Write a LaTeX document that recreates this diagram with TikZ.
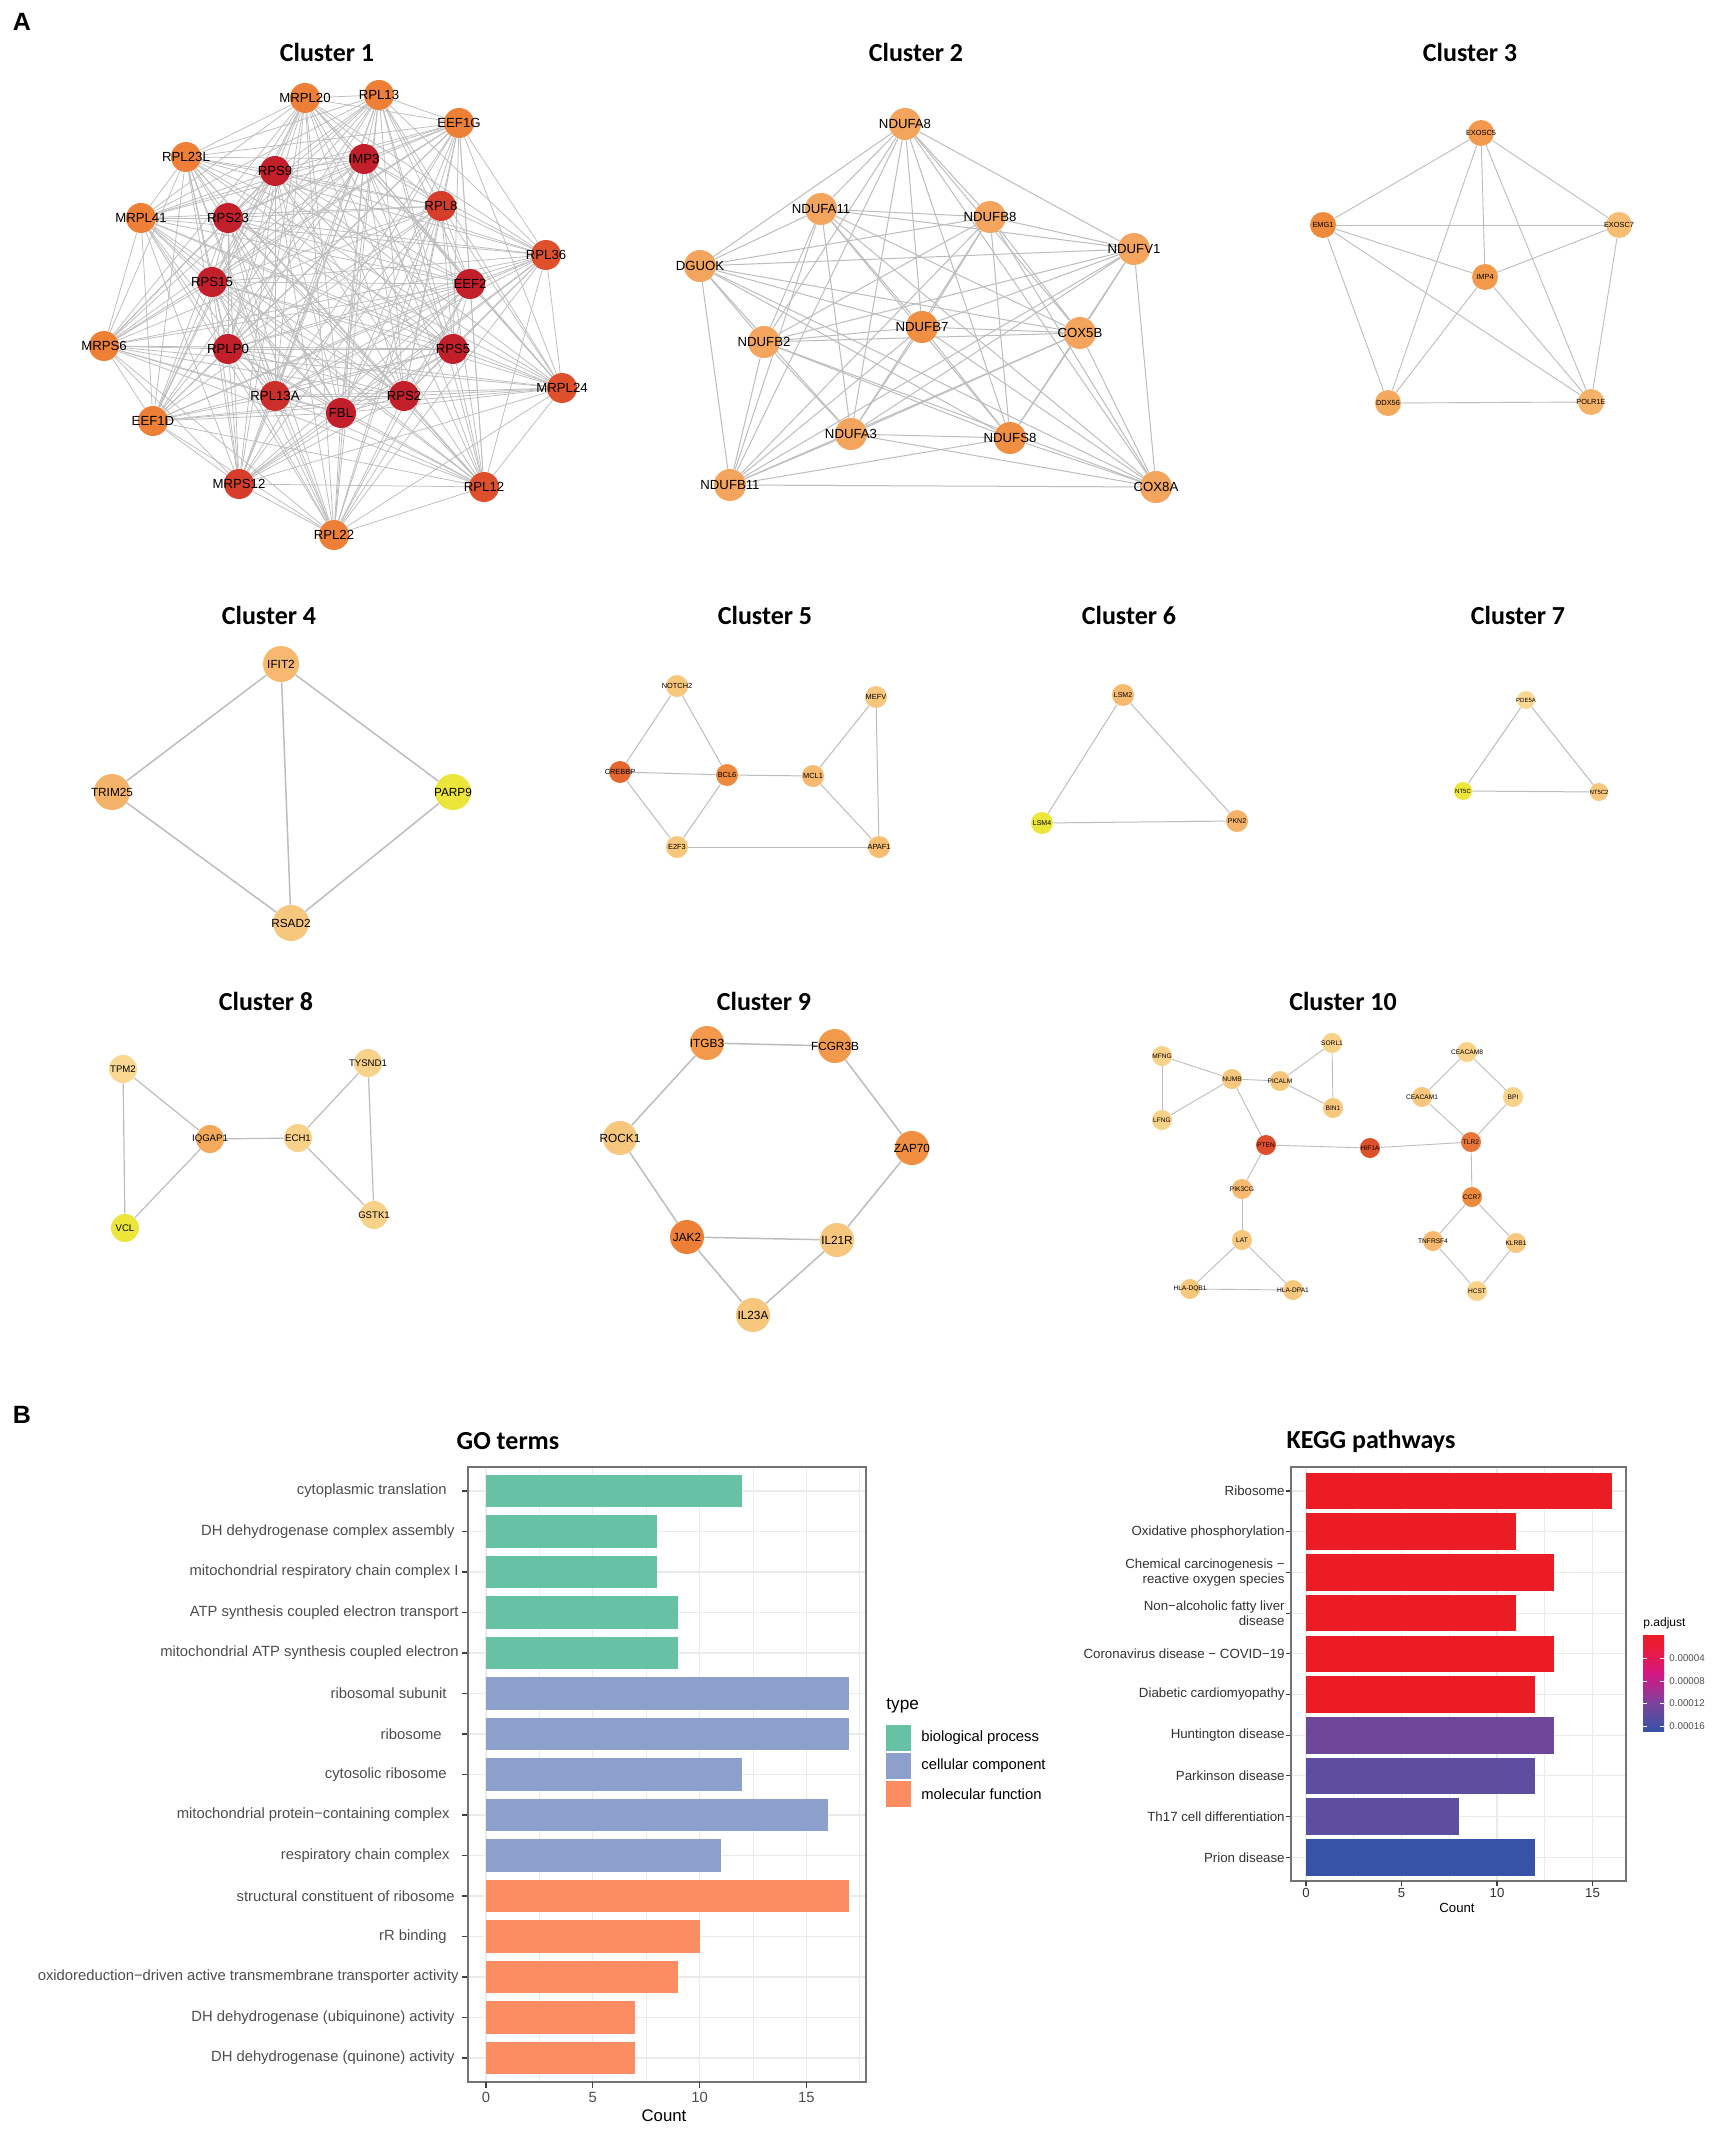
\documentclass[tikz,border=0pt]{standalone}
\usepackage{fontspec}
\setmainfont{Liberation Sans}
\newfontfamily\titlefont{Carlito}
\pgfdeclarelayer{back}
\pgfdeclarelayer{bg}
\pgfsetlayers{back,bg,main}
\definecolor{edgegray}{HTML}{BDBDBD}
\definecolor{cO}{HTML}{EE7F36}
\definecolor{cRO}{HTML}{DE4F2C}
\definecolor{cRR}{HTML}{D63E2B}
\definecolor{cDR}{HTML}{C21F2B}
\definecolor{cMR}{HTML}{CC2F2A}
\definecolor{cLA}{HTML}{F4A55D}
\definecolor{cLB}{HTML}{F08E42}
\definecolor{cY}{HTML}{ECE53A}
\definecolor{cPa}{HTML}{F8C77E}
\definecolor{cPb}{HTML}{F6B96F}
\definecolor{cPc}{HTML}{FAD891}
\definecolor{cPd}{HTML}{F2994C}
\definecolor{cPe}{HTML}{EE8A3E}
\definecolor{cPf}{HTML}{E3672F}
\definecolor{cPg}{HTML}{F4B368}
\definecolor{cPh}{HTML}{F7BD72}
\definecolor{cPi}{HTML}{F4AA5C}
\definecolor{cPj}{HTML}{F9D28A}
\definecolor{cT}{HTML}{E8763A}
\definecolor{bpc}{HTML}{66C2A5}
\definecolor{ccc}{HTML}{8DA0CB}
\definecolor{mfc}{HTML}{FC8D62}
\definecolor{kr}{HTML}{EC1C24}
\definecolor{kh}{HTML}{6E479B}
\definecolor{kp}{HTML}{5D4E9F}
\definecolor{kb}{HTML}{3753A5}
\definecolor{gridc}{HTML}{EBEBEB}
\definecolor{axtxt}{HTML}{4D4D4D}
\newcommand\genenode[5]{\node[gs,fill=#4,label={[gl]center:#5}] (#1) at (#2,#3) {};}
\begin{document}
\begin{tikzpicture}[x=0.5pt,y=-0.5pt,
  g/.style={circle,inner sep=0pt,draw=none,minimum size=#1},
  lf/.style={font=\fontsize{#1}{#1}\selectfont,inner sep=0pt,text=black},
  ed/.style={draw=edgegray,line width=#1},
  ttl/.style={font=\titlefont\bfseries\fontsize{13}{15}\selectfont},
  panel/.style={font=\bfseries\fontsize{12.5}{14}\selectfont},
  gridmaj/.style={draw=gridc,line width=0.55pt},
  gridmin/.style={draw=gridc,line width=0.28pt},
  axline/.style={draw=black!55,line width=0.55pt},
  tickl/.style={draw=black!75,line width=0.55pt},
  golbl/.style={font=\fontsize{7.4}{8.5}\selectfont,text=axtxt,inner sep=0pt,anchor=east},
  kglbl/.style={font=\fontsize{6.65}{7.6}\selectfont,text=black!80,inner sep=0pt,anchor=east,align=right}]
\useasboundingbox (0,0) rectangle (1717,2129);
\begin{pgfonlayer}{back}
\fill[white] (0,0) rectangle (1717,2129);
\end{pgfonlayer}

% panel labels and titles
\node[panel] (pA) at (22,22) {A};
\node[panel] (pB) at (22,1415) {B};
\node[ttl] (t1) at (327,52) {Cluster 1};
\node[ttl] (t2) at (916,52) {Cluster 2};
\node[ttl] (t3) at (1470,52) {Cluster 3};
\node[ttl] (t4) at (269,615) {Cluster 4};
\node[ttl] (t5) at (765,615) {Cluster 5};
\node[ttl] (t6) at (1129,615) {Cluster 6};
\node[ttl] (t7) at (1518,615) {Cluster 7};
\node[ttl] (t8) at (266,1001) {Cluster 8};
\node[ttl] (t9) at (764,1001) {Cluster 9};
\node[ttl] (t10) at (1343,1001) {Cluster 10};

% ---------------- Cluster 1
\begin{scope}[gs/.style={g=15pt},gl/.style={lf=6.6}]
\genenode{mrpl20}{305}{98}{cO}{MRPL20}
\genenode{rpl13}{379}{95}{cO}{RPL13}
\genenode{eef1g}{459}{123}{cO}{EEF1G}
\genenode{rpl23l}{186}{157}{cO}{RPL23L}
\genenode{rps9}{275}{171}{cDR}{RPS9}
\genenode{imp3}{364}{159}{cDR}{IMP3}
\genenode{rpl8}{441}{206}{cRR}{RPL8}
\genenode{mrpl41}{141}{218}{cO}{MRPL41}
\genenode{rps23}{228}{218}{cDR}{RPS23}
\genenode{rpl36}{546}{255}{cRO}{RPL36}
\genenode{rps15}{212}{282}{cDR}{RPS15}
\genenode{eef2}{470}{284}{cDR}{EEF2}
\genenode{mrps6}{104}{346}{cO}{MRPS6}
\genenode{rplp0}{228}{349}{cDR}{RPLP0}
\genenode{rps5}{453}{349}{cDR}{RPS5}
\genenode{mrpl24}{562}{388}{cRO}{MRPL24}
\genenode{rpl13a}{275}{396}{cMR}{RPL13A}
\genenode{rps2}{404}{396}{cDR}{RPS2}
\genenode{fbl}{341}{413}{cDR}{FBL}
\genenode{eef1d}{153}{421}{cO}{EEF1D}
\genenode{mrps12}{239}{484}{cRR}{MRPS12}
\genenode{rpl12}{484}{487}{cRO}{RPL12}
\genenode{rpl22}{334}{535}{cO}{RPL22}
\def\clA{mrpl20,rpl13,eef1g,rpl23l,rps9,imp3,rpl8,mrpl41,rps23,rpl36,rps15,eef2,mrps6,rplp0,rps5,mrpl24,rpl13a,rps2,fbl,eef1d,mrps12,rpl12,rpl22}
\begin{pgfonlayer}{bg}
\foreach \a [count=\i] in \clA {
  \foreach \b [count=\j] in \clA {
    \ifnum\j>\i \draw[ed=0.38pt] (\a) -- (\b);\fi }}
\end{pgfonlayer}
\end{scope}

% ---------------- Cluster 2
\begin{scope}[gs/.style={g=16pt},gl/.style={lf=6.6}]
\genenode{ndufa8}{905}{124}{cLA}{NDUFA8}
\genenode{ndufa11}{821}{209}{cLA}{NDUFA11}
\genenode{ndufb8}{990}{217}{cLA}{NDUFB8}
\genenode{ndufv1}{1134}{249}{cLA}{NDUFV1}
\genenode{dguok}{700}{266}{cLA}{DGUOK}
\genenode{ndufb2}{764}{342}{cLA}{NDUFB2}
\genenode{ndufb7}{922}{327}{cLB}{NDUFB7}
\genenode{cox5b}{1080}{333}{cLA}{COX5B}
\genenode{ndufa3}{851}{434}{cLA}{NDUFA3}
\genenode{ndufs8}{1010}{438}{cLB}{NDUFS8}
\genenode{ndufb11}{730}{485}{cLA}{NDUFB11}
\genenode{cox8a}{1156}{487}{cLA}{COX8A}
\def\clB{ndufa8,ndufa11,ndufb8,ndufv1,dguok,ndufb2,ndufb7,cox5b,ndufa3,ndufs8,ndufb11,cox8a}
\begin{pgfonlayer}{bg}
\foreach \a [count=\i] in \clB {
  \foreach \b [count=\j] in \clB {
    \ifnum\j>\i \draw[ed=0.5pt] (\a) -- (\b);\fi }}
\end{pgfonlayer}
\end{scope}

% ---------------- Cluster 3
\begin{scope}[gs/.style={g=13pt},gl/.style={lf=3.7}]
\genenode{exosc5}{1481}{133}{cPd}{EXOSC5}
\genenode{emg1}{1323}{225}{cPe}{EMG1}
\genenode{exosc7}{1619}{225}{cPh}{EXOSC7}
\genenode{imp4}{1485}{277}{cPd}{IMP4}
\genenode{ddx56}{1388}{403}{cPi}{DDX56}
\genenode{polr1e}{1591}{402}{cPg}{POLR1E}
\begin{pgfonlayer}{bg}
\foreach \a/\b in {exosc5/emg1,exosc5/exosc7,exosc5/imp4,exosc5/ddx56,exosc5/polr1e,emg1/exosc7,emg1/imp4,emg1/ddx56,emg1/polr1e,exosc7/imp4,exosc7/polr1e,imp4/ddx56,imp4/polr1e,ddx56/polr1e}
  \draw[ed=0.45pt] (\a) -- (\b);
\end{pgfonlayer}
\end{scope}

% ---------------- Cluster 4
\begin{scope}[gs/.style={g=18pt},gl/.style={lf=5.9}]
\genenode{ifit2}{281}{664}{cPb}{IFIT2}
\genenode{trim25}{112}{792}{cPg}{TRIM25}
\genenode{parp9}{453}{792}{cY}{PARP9}
\genenode{rsad2}{291}{923}{cPa}{RSAD2}
\begin{pgfonlayer}{bg}
\foreach \a/\b in {ifit2/trim25,ifit2/parp9,ifit2/rsad2,trim25/rsad2,parp9/rsad2}
  \draw[ed=0.75pt] (\a) -- (\b);
\end{pgfonlayer}
\end{scope}

% ---------------- Cluster 5
\begin{scope}[gs/.style={g=11pt},gl/.style={lf=3.7}]
\genenode{notch2}{677}{686}{cPa}{NOTCH2}
\genenode{mefv}{876}{697}{cPa}{MEFV}
\genenode{crebbp}{620}{772}{cPf}{CREBBP}
\genenode{bcl6}{727}{775}{cPe}{BCL6}
\genenode{mcl1}{813}{776}{cPb}{MCL1}
\genenode{e2f3}{677}{847}{cPa}{E2F3}
\genenode{apaf1}{879}{847}{cPh}{APAF1}
\begin{pgfonlayer}{bg}
\foreach \a/\b in {notch2/crebbp,notch2/bcl6,crebbp/bcl6,crebbp/e2f3,bcl6/e2f3,bcl6/mcl1,mcl1/mefv,mcl1/apaf1,mefv/apaf1,e2f3/apaf1}
  \draw[ed=0.5pt] (\a) -- (\b);
\end{pgfonlayer}
\end{scope}

% ---------------- Cluster 6
\begin{scope}[gs/.style={g=11pt},gl/.style={lf=3.5}]
\genenode{lsm2}{1123}{695}{cPb}{LSM2}
\genenode{lsm4}{1042}{823}{cY}{LSM4}
\genenode{pkn2}{1237}{821}{cPg}{PKN2}
\begin{pgfonlayer}{bg}
\foreach \a/\b in {lsm2/lsm4,lsm2/pkn2,lsm4/pkn2}
  \draw[ed=0.5pt] (\a) -- (\b);
\end{pgfonlayer}
\end{scope}

% ---------------- Cluster 7
\begin{scope}[gs/.style={g=9pt},gl/.style={lf=3.0}]
\genenode{pde5a}{1526}{700}{cPc}{PDE5A}
\genenode{nt5c}{1463}{791}{cY}{NT5C}
\genenode{nt5ctwo}{1599}{792}{cPa}{NT5C2}
\begin{pgfonlayer}{bg}
\foreach \a/\b in {pde5a/nt5c,pde5a/nt5ctwo,nt5c/nt5ctwo}
  \draw[ed=0.5pt] (\a) -- (\b);
\end{pgfonlayer}
\end{scope}

% ---------------- Cluster 8
\begin{scope}[gs/.style={g=14pt},gl/.style={lf=4.8}]
\genenode{tpm2}{123}{1069}{cPc}{TPM2}
\genenode{tysnd1}{368}{1063}{cPj}{TYSND1}
\genenode{iqgap1}{210}{1139}{cPi}{IQGAP1}
\genenode{ech1}{298}{1138}{cPj}{ECH1}
\genenode{vcl}{125}{1228}{cY}{VCL}
\genenode{gstk1}{374}{1215}{cPj}{GSTK1}
\begin{pgfonlayer}{bg}
\foreach \a/\b in {tpm2/iqgap1,tpm2/vcl,vcl/iqgap1,iqgap1/ech1,ech1/tysnd1,ech1/gstk1,tysnd1/gstk1}
  \draw[ed=0.6pt] (\a) -- (\b);
\end{pgfonlayer}
\end{scope}

% ---------------- Cluster 9
\begin{scope}[gs/.style={g=17pt},gl/.style={lf=5.9}]
\genenode{itgb3}{707}{1043}{cPd}{ITGB3}
\genenode{fcgr3b}{835}{1046}{cPd}{FCGR3B}
\genenode{rock1}{620}{1138}{cPa}{ROCK1}
\genenode{zap70}{912}{1148}{cLB}{ZAP70}
\genenode{jak2}{687}{1237}{cO}{JAK2}
\genenode{il21r}{837}{1240}{cPa}{IL21R}
\genenode{il23a}{753}{1315}{cPa}{IL23A}
\begin{pgfonlayer}{bg}
\foreach \a/\b in {itgb3/fcgr3b,itgb3/rock1,fcgr3b/zap70,rock1/jak2,zap70/il21r,jak2/il21r,jak2/il23a,il21r/il23a}
  \draw[ed=0.75pt] (\a) -- (\b);
\end{pgfonlayer}
\end{scope}

% ---------------- Cluster 10
\begin{scope}[gs/.style={g=10pt},gl/.style={lf=3.3}]
\genenode{mfng}{1162}{1056}{cPj}{MFNG}
\genenode{lfng}{1162}{1120}{cPj}{LFNG}
\genenode{numb}{1232}{1079}{cPa}{NUMB}
\genenode{picalm}{1280}{1081}{cPa}{PICALM}
\genenode{sorl1}{1332}{1043}{cPj}{SORL1}
\genenode{bin1}{1333}{1108}{cPa}{BIN1}
\genenode{pten}{1266}{1145}{cRO}{PTEN}
\genenode{hif1a}{1370}{1148}{cRO}{HIF1A}
\genenode{tlr2}{1471}{1142}{cT}{TLR2}
\genenode{ceacam8}{1467}{1052}{cPj}{CEACAM8}
\genenode{ceacam1}{1422}{1097}{cPa}{CEACAM1}
\genenode{bpi}{1513}{1097}{cPj}{BPI}
\genenode{ccr7}{1472}{1197}{cPe}{CCR7}
\genenode{pik3cg}{1242}{1189}{cPb}{PIK3CG}
\genenode{lat}{1242}{1240}{cPa}{LAT}
\genenode{hladqb1}{1190}{1289}{cPa}{HLA-DQB1}
\genenode{hladpa1}{1293}{1290}{cPa}{HLA-DPA1}
\genenode{tnfrsf4}{1433}{1241}{cPb}{TNFRSF4}
\genenode{klrb1}{1516}{1243}{cPa}{KLRB1}
\genenode{hcst}{1477}{1291}{cPj}{HCST}
\begin{pgfonlayer}{bg}
\foreach \a/\b in {mfng/numb,mfng/lfng,lfng/numb,numb/picalm,numb/pten,picalm/sorl1,picalm/bin1,sorl1/bin1,pten/hif1a,hif1a/tlr2,pten/pik3cg,pik3cg/lat,lat/hladqb1,lat/hladpa1,hladqb1/hladpa1,tlr2/ceacam1,tlr2/bpi,ceacam8/ceacam1,ceacam8/bpi,tlr2/ccr7,ccr7/tnfrsf4,ccr7/klrb1,tnfrsf4/hcst,klrb1/hcst}
  \draw[ed=0.45pt] (\a) -- (\b);
\end{pgfonlayer}
\end{scope}

% ================= GO terms chart
\node[ttl] (gotitle) at (508,1441) {GO terms};
\foreach \v in {2.5,7.5,12.5,17.5} \draw[gridmin] ({486+21.35*\v},1467) -- ({486+21.35*\v},2082);
\foreach \v in {0,5,10,15} \draw[gridmaj] ({486+21.35*\v},1467) -- ({486+21.35*\v},2082);
\foreach \k in {0,...,14} \draw[gridmaj] (468,{1491+40.5*\k}) -- (866,{1491+40.5*\k});
\foreach \k/\v/\c in {0/12/bpc,1/8/bpc,2/8/bpc,3/9/bpc,4/9/bpc,5/17/ccc,6/17/ccc,7/12/ccc,8/16/ccc,9/11/ccc,10/17/mfc,11/10/mfc,12/9/mfc,13/7/mfc,14/7/mfc}
  \fill[\c] (486,{1491+40.5*\k-16.2}) rectangle ({486+21.35*\v},{1491+40.5*\k+16.2});
\foreach \k in {0,...,14} \draw[tickl] (462,{1491+40.5*\k}) -- (468,{1491+40.5*\k});
\draw[axline] (468,1467) rectangle (866,2082);
\foreach \k/\r/\t in {0/447/cytoplasmic translation,1/455/DH dehydrogenase complex assembly,2/459/mitochondrial respiratory chain complex I,3/459/ATP synthesis coupled electron transport,4/459/mitochondrial ATP synthesis coupled electron,5/447/ribosomal subunit,6/442/ribosome,7/447/cytosolic ribosome,8/450/mitochondrial protein−containing complex,9/450/respiratory chain complex,10/455/structural constituent of ribosome,11/447/rR binding,12/459/oxidoreduction−driven active transmembrane transporter activity,13/455/DH dehydrogenase (ubiquinone) activity,14/455/DH dehydrogenase (quinone) activity}
  \node[golbl] at (\r,{1491+40.5*\k}) {\t};
\foreach \v in {0,5,10,15} {
  \draw[tickl] ({486+21.35*\v},2082) -- ({486+21.35*\v},2088);
  \node[font=\fontsize{7.4}{8}\selectfont,text=axtxt,inner sep=0pt] at ({486+21.35*\v},2097) {\v};}
\node[font=\fontsize{8.4}{9}\selectfont,inner sep=0pt] (gocount) at (664,2116) {Count};
% legend
\node[font=\fontsize{8.6}{9}\selectfont,inner sep=0pt,anchor=west] (typelbl) at (886,1706) {type};
\fill[bpc] (886,1725) rectangle (911,1751);
\fill[ccc] (886,1753) rectangle (911,1779);
\fill[mfc] (886,1781) rectangle (911,1807);
\node[font=\fontsize{7.4}{8}\selectfont,inner sep=0pt,anchor=west] (lg1) at (921,1738) {biological process};
\node[font=\fontsize{7.4}{8}\selectfont,inner sep=0pt,anchor=west] (lg2) at (921,1766) {cellular component};
\node[font=\fontsize{7.4}{8}\selectfont,inner sep=0pt,anchor=west] (lg3) at (921,1794) {molecular function};

% ================= KEGG chart
\node[ttl] (kgtitle) at (1371,1441) {KEGG pathways};
\foreach \v in {2.5,7.5,12.5} \draw[gridmin] ({1306+19.1*\v},1467) -- ({1306+19.1*\v},1881);
\foreach \v in {0,5,10,15} \draw[gridmaj] ({1306+19.1*\v},1467) -- ({1306+19.1*\v},1881);
\foreach \k in {0,...,9} \draw[gridmaj] (1291,{1491+40.7*\k}) -- (1626,{1491+40.7*\k});
\foreach \k/\v/\c in {0/16/kr,1/11/kr,2/13/kr,3/11/kr,4/13/kr,5/12/kr,6/13/kh,7/12/kp,8/8/kp,9/12/kb}
  \fill[\c] (1306,{1491+40.7*\k-18.3}) rectangle ({1306+19.1*\v},{1491+40.7*\k+18.3});
\foreach \k in {0,...,9} \draw[tickl] (1286,{1491+40.7*\k}) -- (1291,{1491+40.7*\k});
\draw[axline] (1291,1467) rectangle (1626,1881);
\foreach \k/\t in {0/Ribosome,1/Oxidative phosphorylation,4/Coronavirus disease − COVID−19,5/Diabetic cardiomyopathy,6/Huntington disease,7/Parkinson disease,8/Th17 cell differentiation,9/Prion disease}
  \node[kglbl] at (1285,{1491+40.7*\k}) {\t};
\node[kglbl] at (1285,{1491+40.7*2}) {Chemical carcinogenesis −\\reactive oxygen species};
\node[kglbl] at (1285,{1491+40.7*3}) {Non−alcoholic fatty liver\\disease};
\foreach \v in {0,5,10,15} {
  \draw[tickl] ({1306+19.1*\v},1881) -- ({1306+19.1*\v},1886);
  \node[font=\fontsize{6.6}{7}\selectfont,text=black!80,inner sep=0pt] at ({1306+19.1*\v},1893) {\v};}
\node[font=\fontsize{6.6}{7}\selectfont,inner sep=0pt] (kgcount) at (1457,1908) {Count};
% colour bar legend
\node[font=\fontsize{6}{7}\selectfont,inner sep=0pt,anchor=west] (padj) at (1643,1623) {p.adjust};
\definecolor{gA}{HTML}{EA1B3F}
\definecolor{gB}{HTML}{D41684}
\definecolor{gC}{HTML}{7E429C}
\shade[top color=kr,bottom color=gA] (1643,1635) rectangle (1664,1650);
\shade[top color=gA,bottom color=gB] (1643,1649.5) rectangle (1664,1674);
\shade[top color=gB,bottom color=gC] (1643,1673.5) rectangle (1664,1703);
\shade[top color=gC,bottom color=kb] (1643,1702.5) rectangle (1664,1731);
\foreach \y/\t in {1658/0.00004,1681/0.00008,1703/0.00012,1726/0.00016} {
  \draw[white,line width=0.4pt] (1643,\y) -- (1647,\y);
  \draw[white,line width=0.4pt] (1660,\y) -- (1664,\y);
  \node[font=\fontsize{4.9}{5}\selectfont,text=axtxt,inner sep=0pt,anchor=west] at (1669,\y) {\t};}
\end{tikzpicture}
\end{document}
